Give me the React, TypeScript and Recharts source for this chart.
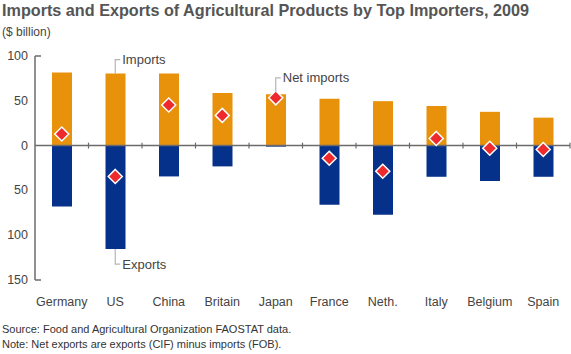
import { ComposedChart, Bar, Scatter, XAxis, YAxis, ReferenceLine, ReferenceDot } from 'recharts';

const countries = ['Germany', 'US', 'China', 'Britain', 'Japan', 'France', 'Neth.', 'Italy', 'Belgium', 'Spain'];
const imports = [81.5, 80.4, 80.4, 58.7, 57.2, 52.2, 49.6, 44.2, 37.7, 31.2];
const exports = [68, 115.5, 34.4, 23.2, 1.2, 66, 77.2, 34.8, 39.5, 34.8];
const netImports = [13, -34.4, 45.3, 33.7, 53.3, -14.1, -28.6, 8, -2.9, -4.3];
const yTicks = [-150, -100, -50, 0, 50, 100];

const data = countries.map((name, i) => ({
  name,
  imports: imports[i],
  exports: -exports[i],
  net: netImports[i],
}));

const FONT = '"Liberation Sans", Arial, Helvetica, sans-serif';
const TEXT = '#444';
const AXIS = '#6b6b6b';
const LEADER = '#b5b5b5';

const YTick = (props: any) => {
  const { x, y, payload } = props;
  const isEnd = payload.value === 100 || payload.value === -150;
  return (
    <g>
      <text x={x} y={y} dy={4} textAnchor="end" fontSize={12.5} fill={TEXT} fontFamily={FONT}>
        {Math.abs(payload.value)}
      </text>
      {isEnd && <line x1={x + 7} x2={x + 13} y1={y} y2={y} stroke={AXIS} strokeWidth={1.5} />}
    </g>
  );
};

const Diamond = (props: any) => {
  const { cx, cy } = props;
  const r = 7;
  return (
    <polygon
      points={`${cx},${cy - r} ${cx + r},${cy} ${cx},${cy + r} ${cx - r},${cy}`}
      fill="#ef2a2d"
      stroke="#fff"
      strokeWidth={1.5}
    />
  );
};

const leader = (label: string, up: boolean, start: number) => (props: any) => {
  const { cx, cy } = props;
  const y0 = up ? cy - start : cy + start;
  const y1 = up ? cy - 14 - start : cy + 15 + start;
  return (
    <g>
      <path d={`M${cx},${y0} V${y1} H${cx + 5}`} fill="none" stroke={LEADER} strokeWidth={1.2} />
      <text x={cx + 7} y={y1} dy={4.5} fontSize={13} fill={TEXT} fontFamily={FONT}>
        {label}
      </text>
    </g>
  );
};

export default function App() {
  const last = countries.length - 1;
  return (
    <div style={{ position: 'absolute', left: 0, top: 0, width: 571, height: 354, background: '#fff', fontFamily: FONT }}>
      <div style={{ position: 'absolute', left: 2, top: 1, fontSize: 16.2, fontWeight: 'bold', color: '#555', whiteSpace: 'nowrap' }}>
        Imports and Exports of Agricultural Products by Top Importers, 2009
      </div>
      <div style={{ position: 'absolute', left: 2, top: 25, fontSize: 12, color: TEXT }}>($ billion)</div>
      <ComposedChart
        width={571}
        height={354}
        data={data}
        stackOffset="sign"
        margin={{ top: 56, right: 1, bottom: 44, left: 0 }}
        style={{ position: 'absolute', left: 0, top: 0 }}
      >
        <XAxis
          dataKey="name"
          height={30}
          axisLine={false}
          tickLine={false}
          tickSize={0}
          tickMargin={17}
          tick={{ fontSize: 12.5, fill: TEXT, fontFamily: FONT }}
          interval={0}
        />
        <YAxis
          width={35}
          domain={[-150, 100]}
          ticks={yTicks}
          axisLine={{ stroke: AXIS, strokeWidth: 1.5 }}
          tickLine={false}
          tickSize={0}
          tickMargin={7}
          tick={<YTick />}
        />
        <ReferenceLine y={0} stroke={AXIS} strokeWidth={1.5} />
        {countries.slice(1).map((c) => (
          <ReferenceLine
            key={c}
            segment={[{ x: c, y: 3.3 }, { x: c, y: -3.3 }]}
            position="start"
            stroke={AXIS}
            strokeWidth={1.2}
          />
        ))}
        <ReferenceLine
          segment={[{ x: countries[last], y: 3.3 }, { x: countries[last], y: -3.3 }]}
          position="end"
          stroke={AXIS}
          strokeWidth={1.2}
        />
        <Bar dataKey="imports" stackId="a" fill="#e8920b" barSize={20} isAnimationActive={false} />
        <Bar dataKey="exports" stackId="a" fill="#06318a" barSize={20} isAnimationActive={false} />
        <Scatter dataKey="net" shape={<Diamond />} isAnimationActive={false} />
        <ReferenceDot x="US" y={imports[1]} r={0} shape={leader('Imports', true, 0)} />
        <ReferenceDot x="US" y={-exports[1]} r={0} shape={leader('Exports', false, 0)} />
        <ReferenceDot x="Japan" y={netImports[4]} r={0} shape={leader('Net imports', true, 6)} />
      </ComposedChart>
      <div style={{ position: 'absolute', left: 2, top: 322, fontSize: 11, color: '#333', lineHeight: '15px' }}>
        Source: Food and Agricultural Organization FAOSTAT data.
        <br />
        Note: Net exports are exports (CIF) minus imports (FOB).
      </div>
    </div>
  );
}
